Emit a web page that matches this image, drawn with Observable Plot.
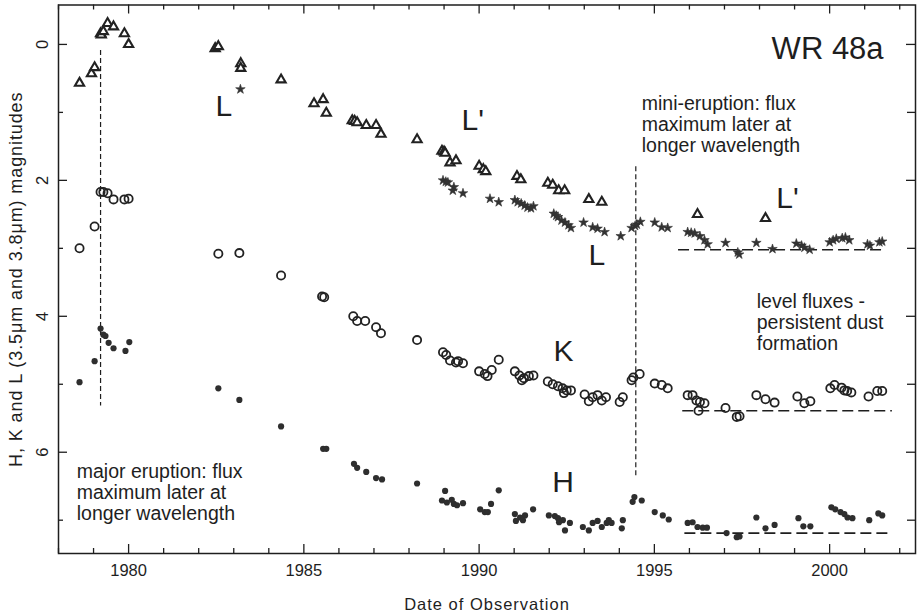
<!DOCTYPE html>
<html>
<head>
<meta charset="utf-8">
<script src="https://cdn.jsdelivr.net/npm/d3@7"></script>
<script src="https://cdn.jsdelivr.net/npm/@observablehq/plot@0.6"></script>
<style>
  html, body { margin: 0; padding: 0; background: #fff; }
  #chart svg { display: block; }
</style>
</head>
<body>
<div id="chart"></div>
<script>
// ---- data: [year, magnitude] ----
const lPrimeObs = [ // L' (3.8um) – open triangles
  [1978.6,0.57],[1978.94,0.43],[1979.03,0.34],[1979.2,-0.16],[1979.22,-0.14],[1979.28,-0.19],
  [1979.4,-0.31],[1979.57,-0.26],[1979.88,-0.16],[1980.0,0.0],
  [1982.47,0.06],[1982.56,0.03],[1983.2,0.28],[1983.2,0.35],[1984.35,0.52],
  [1985.29,0.87],[1985.55,0.81],[1985.64,1.01],[1986.38,1.12],[1986.45,1.13],[1986.52,1.15],
  [1986.78,1.19],[1987.06,1.19],[1987.2,1.32],[1988.23,1.40],
  [1988.94,1.57],[1989.0,1.58],[1989.03,1.6],[1989.17,1.74],[1989.34,1.71],
  [1990.0,1.79],[1990.12,1.84],[1990.19,1.87],[1991.08,1.94],[1991.19,1.99],
  [1991.96,2.04],[1992.1,2.07],[1992.27,2.15],[1992.44,2.15],[1993.13,2.28],[1993.5,2.32],
  [1996.23,2.5],[1998.17,2.56]
];
const lObs = [ // L (3.5um) – stars
  [1983.19,0.66],
  [1988.97,2.0],[1989.05,2.02],[1989.11,2.03],[1989.28,2.1],[1989.25,2.15],[1989.54,2.19],
  [1990.31,2.27],[1990.56,2.32],
  [1991.02,2.29],[1991.1,2.32],[1991.2,2.34],[1991.3,2.37],[1991.38,2.4],[1991.48,2.41],[1991.55,2.38],
  [1992.13,2.49],[1992.2,2.52],[1992.25,2.54],[1992.35,2.59],[1992.45,2.62],[1992.55,2.66],[1992.62,2.7],
  [1992.98,2.62],[1993.24,2.69],[1993.38,2.71],[1993.58,2.76],[1994.04,2.82],
  [1994.35,2.7],[1994.45,2.67],[1994.5,2.65],[1994.6,2.61],
  [1995.01,2.62],[1995.21,2.69],[1995.38,2.7],
  [1995.95,2.76],[1996.05,2.77],[1996.15,2.78],[1996.3,2.82],[1996.43,2.88],[1996.52,2.94],
  [1997.03,2.92],[1997.38,3.06],[1997.42,3.09],[1997.91,2.92],[1998.37,3.01],
  [1999.05,2.93],[1999.2,2.96],[1999.28,2.99],[1999.43,3.02],
  [2000.0,2.91],[2000.1,2.88],[2000.19,2.86],[2000.36,2.85],[2000.45,2.84],[2000.56,2.88],
  [2001.08,2.94],[2001.15,2.96],[2001.42,2.91],[2001.5,2.9]
];
const kObs = [ // K – open circles
  [1978.6,3.0],[1979.03,2.68],[1979.2,2.17],[1979.28,2.17],[1979.4,2.19],[1979.57,2.28],
  [1979.88,2.28],[1980.0,2.27],
  [1982.56,3.08],[1983.16,3.07],[1984.35,3.4],[1985.52,3.71],[1985.58,3.72],
  [1986.41,4.0],[1986.52,4.07],[1986.75,4.07],[1987.06,4.16],[1987.2,4.25],[1988.23,4.35],
  [1988.97,4.53],[1989.06,4.57],[1989.17,4.65],[1989.34,4.68],[1989.4,4.66],[1989.54,4.69],
  [1990.0,4.81],[1990.16,4.85],[1990.24,4.88],[1990.36,4.79],[1990.56,4.64],
  [1991.02,4.81],[1991.15,4.87],[1991.28,4.91],[1991.42,4.88],[1991.55,4.87],[1991.22,4.94],
  [1991.96,4.96],[1992.1,5.0],[1992.25,5.03],[1992.38,5.06],[1992.5,5.09],[1992.62,5.09],[1992.42,5.13],
  [1993.01,5.15],[1993.13,5.25],[1993.24,5.19],[1993.38,5.16],[1993.5,5.24],[1993.62,5.19],
  [1994.01,5.26],[1994.1,5.19],[1994.35,4.94],[1994.4,4.9],[1994.58,4.85],
  [1995.01,4.99],[1995.21,5.01],[1995.38,5.06],
  [1995.95,5.16],[1996.09,5.16],[1996.2,5.24],[1996.3,5.26],[1996.43,5.28],[1996.26,5.39],
  [1997.03,5.35],[1997.35,5.48],[1997.43,5.47],
  [1997.91,5.16],[1998.17,5.22],[1998.43,5.27],
  [1999.08,5.18],[1999.28,5.28],[1999.45,5.25],
  [2000.02,5.06],[2000.14,5.01],[2000.34,5.05],[2000.42,5.09],[2000.5,5.1],[2000.62,5.12],
  [2001.11,5.18],[2001.36,5.1],[2001.5,5.1]
];
const hObs = [ // H – filled dots
  [1978.6,4.97],[1979.03,4.66],[1979.2,4.18],[1979.28,4.27],[1979.34,4.29],[1979.43,4.39],
  [1979.57,4.47],[1979.91,4.51],[1980.02,4.38],
  [1982.56,5.06],[1983.16,5.23],[1984.35,5.62],[1985.55,5.95],[1985.64,5.95],
  [1986.43,6.17],[1986.52,6.23],[1986.78,6.29],[1987.06,6.38],[1987.23,6.4],[1988.23,6.46],
  [1989.03,6.57],[1988.94,6.71],[1989.08,6.74],[1989.22,6.7],[1989.28,6.76],[1989.37,6.78],[1989.54,6.75],
  [1990.03,6.84],[1990.16,6.88],[1990.25,6.88],[1990.34,6.76],[1990.56,6.56],
  [1991.02,6.91],[1991.05,7.01],[1991.17,6.96],[1991.31,6.93],[1991.25,7.0],[1991.54,6.84],
  [1991.99,6.93],[1992.16,6.94],[1992.25,6.97],[1992.39,7.0],[1992.45,7.15],[1992.59,7.04],[1992.28,7.03],
  [1992.96,7.1],[1993.13,7.15],[1993.24,7.04],[1993.38,7.01],[1993.5,7.1],[1993.64,7.04],
  [1993.7,7.0],[1993.78,7.04],[1994.07,7.12],[1994.1,7.0],
  [1994.38,6.73],[1994.43,6.66],[1994.64,6.71],
  [1995.01,6.88],[1995.24,6.93],[1995.41,6.99],
  [1995.95,7.04],[1996.09,7.03],[1996.23,7.1],[1996.38,7.11],[1996.5,7.11],
  [1997.06,7.19],[1997.35,7.25],[1997.43,7.24],
  [1997.91,6.96],[1998.17,7.12],[1998.43,7.07],
  [1999.11,6.97],[1999.25,7.09],[1999.45,7.09],
  [2000.05,6.81],[2000.16,6.84],[2000.31,6.88],[2000.42,6.91],[2000.51,6.96],[2000.65,6.97],
  [2001.13,7.0],[2001.39,6.9],[2001.5,6.93]
];
// eruption markers: [year, magnitude top, magnitude bottom]
const eruptionLines = [[1979.2, 0.09, 5.32], [1994.47, 1.8, 6.37]];
// level flux lines: [start year, end year, magnitude]
const levelLines = [[1995.69, 2001.62, 3.02], [1995.81, 2001.79, 5.39], [1995.87, 2001.79, 7.19]];
// tick values
const majorYears = [1980, 1985, 1990, 1995, 2000];
const minorYears = [1978,1979,1981,1982,1983,1984,1986,1987,1988,1989,1991,1992,1993,1994,1996,1997,1998,1999,2001,2002];
const majorMags = [0, 2, 4, 6];
const minorMags = [1, 3, 5, 7];
// band labels: [text, year, magnitude]
const bandLabels = [["L",1982.48,0.91],["L'",1989.5,1.12],["L",1993.12,3.1],["L'",1998.48,2.26],["K",1992.12,4.52],["H",1992.09,6.45]];
// notes: [text, year, magnitude]
const notes = [
  ["major eruption: flux\nmaximum later at\nlonger wavelength", 1978.52, 6.59],
  ["mini-eruption: flux\nmaximum later at\nlonger wavelength", 1994.64, 1.18],
  ["level fluxes -\npersistent dust\nformation", 1997.92, 4.09]
];
const title = "WR 48a";
const xLabel = "Date of Observation";
const yLabel = "H, K and L (3.5\u03bcm and 3.8\u03bcm) magnitudes";

// ---- layout ----
const W = 917, H = 614;
const mTop = 4.5, mBottom = 61, mLeft = 58, mRight = 2;
const pw = W - mLeft - mRight, ph = H - mTop - mBottom;
const ink = "#1e1e1e";
const font = "'Liberation Sans', Arial, Helvetica, sans-serif";

const chart = Plot.plot({
  width: W, height: H,
  marginTop: mTop, marginBottom: mBottom, marginLeft: mLeft, marginRight: mRight,
  style: {fontFamily: font, fontSize: "16px", color: ink, background: "#fff", overflow: "visible"},
  x: {domain: [1978, 2002.45], axis: null},
  y: {domain: [-0.58, 7.49], reverse: true, axis: null},
  marks: [
    // tick marks (inward)
    Plot.tickX(minorYears, {x: d => d, insetTop: ph - 5, stroke: ink, strokeWidth: 1.3}),
    Plot.tickX(majorYears, {x: d => d, insetTop: ph - 9, stroke: ink, strokeWidth: 1.3}),
    Plot.tickX(minorYears, {x: d => d, insetBottom: ph - 5, stroke: ink, strokeWidth: 1.3}),
    Plot.tickX(majorYears, {x: d => d, insetBottom: ph - 9, stroke: ink, strokeWidth: 1.3}),
    Plot.tickY(minorMags, {y: d => d, insetRight: pw - 5, stroke: ink, strokeWidth: 1.3}),
    Plot.tickY(majorMags, {y: d => d, insetRight: pw - 9, stroke: ink, strokeWidth: 1.3}),
    Plot.tickY(minorMags, {y: d => d, insetLeft: pw - 8, stroke: ink, strokeWidth: 1.3}),
    Plot.tickY(majorMags, {y: d => d, insetLeft: pw - 9, stroke: ink, strokeWidth: 1.3}),
    // tick labels
    Plot.axisX({ticks: majorYears, tickSize: 0, tickPadding: 11, tickFormat: d => String(d), fontSize: 16.5, fill: ink}),
    Plot.axisY({ticks: majorMags, tickSize: 0, tickPadding: 11, tickRotate: -90, tickFormat: d => String(d), fontSize: 16.5, fill: ink}),
    // reference lines
    Plot.ruleX(eruptionLines, {x: d => d[0], y1: d => d[1], y2: d => d[2], stroke: ink, strokeWidth: 1.2, strokeDasharray: "5,3"}),
    Plot.ruleY(levelLines, {x1: d => d[0], x2: d => d[1], y: d => d[2], stroke: ink, strokeWidth: 1.6, strokeDasharray: "11,5"}),
    // data
    Plot.dot(hObs, {x: d => d[0], y: d => d[1], r: 3.1, fill: "#2e2e2e", stroke: "none"}),
    Plot.dot(kObs, {x: d => d[0], y: d => d[1], r: 4.1, fill: "none", stroke: "#222", strokeWidth: 1.8}),
    Plot.dot(lObs, {x: d => d[0], y: d => d[1], symbol: "star", r: 3.0, fill: "#333", stroke: "#333", strokeWidth: 0.6}),
    Plot.dot(lPrimeObs, {x: d => d[0], y: d => d[1], symbol: "triangle", r: 3.4, fill: "#fff", stroke: "#222", strokeWidth: 2.1}),
    // annotations
    Plot.text(bandLabels, {x: d => d[1], y: d => d[2], text: d => d[0], textAnchor: "start", fontSize: 30, fill: ink}),
    Plot.text([title], {x: () => 2001.54, y: () => 0.07, text: d => d, textAnchor: "end", fontSize: 31, fill: ink}),
    Plot.text(notes, {x: d => d[1], y: d => d[2], text: d => d[0], textAnchor: "start", lineAnchor: "middle", lineHeight: 1.08, fontSize: 19.5, fill: ink}),
    // axis titles
    Plot.text([xLabel], {frameAnchor: "bottom", text: d => d, textAnchor: "middle", lineAnchor: "middle", dy: 51, fontSize: 16.5, fill: ink}),
    Plot.text([yLabel], {frameAnchor: "left", text: d => d, rotate: -90, textAnchor: "middle", lineAnchor: "bottom", dx: -37, fontSize: 18, fill: ink}),
    Plot.frame({stroke: ink, strokeWidth: 1.5})
  ]
});
d3.select(chart).selectAll("text").each(function() {
  const t = this.textContent;
  if (t === xLabel) d3.select(this).style("letter-spacing", "1px");
  if (t === yLabel) d3.select(this).style("letter-spacing", "0.9px");
});
document.getElementById("chart").appendChild(chart);
</script>
</body>
</html>
